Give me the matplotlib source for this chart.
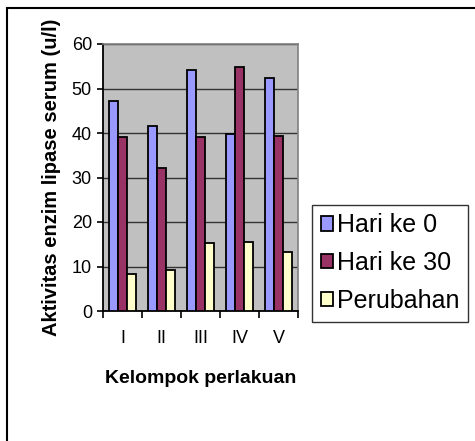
import matplotlib.pyplot as plt
from matplotlib.patches import Rectangle
import numpy as np

plt.rcParams['font.family'] = ['Liberation Sans', 'DejaVu Sans']

# data
kelompok = ['I', 'II', 'III', 'IV', 'V']
hari0 = [47.2, 41.5, 54.2, 39.7, 52.4]
hari30 = [39.2, 32.1, 39.0, 54.9, 39.3]
perubahan = [8.3, 9.3, 15.3, 15.4, 13.2]

fig = plt.figure(figsize=(4.75, 4.41), dpi=100)
ax = fig.add_axes([103/475, 130/441, 195/475, 267/441])
ax.set_facecolor('#C0C0C0')

x = np.arange(len(kelompok))
w = 0.23
ax.bar(x - w, hari0, w, color='#9999FF', edgecolor='black', linewidth=1.3, label='Hari ke 0', zorder=3)
ax.bar(x, hari30, w, color='#993366', edgecolor='black', linewidth=1.3, label='Hari ke 30', zorder=3)
ax.bar(x + w, perubahan, w, color='#FFFFCC', edgecolor='black', linewidth=1.3, label='Perubahan', zorder=3)

ax.set_xlim(-0.5, 4.5)
ax.set_ylim(0, 60)
ax.set_yticks(range(0, 61, 10))
ax.yaxis.grid(True, color='#333333', linewidth=1, zorder=0)

ax.set_xticks(x)
ax.set_xticklabels(kelompok)
ax.set_xticks(np.arange(-0.5, 5, 1), minor=True)
ax.tick_params(axis='x', which='major', length=0, pad=14, labelsize=13)
ax.tick_params(axis='x', which='minor', length=5, width=1.2, direction='out')
ax.tick_params(axis='y', length=4, width=1.2, labelsize=13, pad=4)

for s in ['top', 'right']:
    ax.spines[s].set_color('#808080')
    ax.spines[s].set_linewidth(1.2)
for s in ['left', 'bottom']:
    ax.spines[s].set_linewidth(1.3)

ax.set_xlabel('Kelompok perlakuan', fontsize=14, fontweight='bold', labelpad=16)
ax.set_ylabel('Aktivitas enzim lipase serum (u/l)', fontsize=14.5, fontweight='bold', labelpad=8)

leg = fig.legend(loc='center left', bbox_to_anchor=(312/475, (441-263)/441),
                 fontsize=18, frameon=True, fancybox=False, edgecolor='black',
                 handlelength=0.5, handleheight=0.5, handletextpad=0.15,
                 labelspacing=0.55, borderpad=0.35, borderaxespad=0)
leg.get_frame().set_linewidth(1.0)

# outer frame of chart area
fig.add_artist(Rectangle((7/475, -0.2), 2, 1.2 - 8/441, transform=fig.transFigure,
                         fill=False, edgecolor='black', linewidth=1.5))

plt.savefig('out.png', dpi=100)
